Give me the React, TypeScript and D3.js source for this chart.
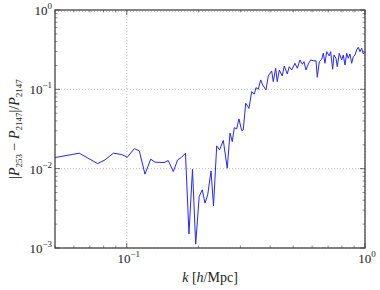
import React from 'react';
import * as d3 from 'd3';

// wavenumber k [h/Mpc]
const kValues = [
  0.05, 0.0632, 0.0755, 0.0811, 0.0879, 0.0953, 0.1006, 0.1076, 0.1129, 0.1193,
  0.1261, 0.1314, 0.1434, 0.1494, 0.1568, 0.1636, 0.1701, 0.1764, 0.1825, 0.1888,
  0.1947, 0.2014, 0.2075, 0.213, 0.2187, 0.2258, 0.2313, 0.2386, 0.2451, 0.2543,
  0.2642, 0.2713, 0.2773, 0.2827, 0.2893, 0.2958, 0.3037, 0.3084, 0.3157, 0.3259,
  0.3345, 0.343, 0.3487, 0.3565, 0.3649, 0.372, 0.384, 0.3927, 0.4058, 0.4121,
  0.4217, 0.4284, 0.4368, 0.4495, 0.4583, 0.4718, 0.481, 0.4924, 0.5083, 0.5198,
  0.5335, 0.5455, 0.5545, 0.5653, 0.578, 0.5916, 0.6108, 0.6228, 0.6306, 0.6429,
  0.658, 0.6683, 0.6792, 0.6906, 0.7082, 0.7177, 0.7317, 0.741, 0.7555, 0.7649,
  0.7798, 0.7981, 0.8105, 0.8241, 0.8377, 0.8507, 0.8647, 0.8792, 0.8929, 0.9077,
  0.9226, 0.9371, 0.9526, 0.9683, 0.9833, 1.0,
];

// |P_253 - P_2147| / P_2147
const ratioValues = [
  0.0138, 0.01567, 0.01159, 0.01291, 0.01567, 0.01506, 0.01396, 0.0179, 0.01676, 0.00853,
  0.01318, 0.01208, 0.01194, 0.01265, 0.00919, 0.01291, 0.01396, 0.01567, 0.00151, 0.0098,
  0.00112, 0.00445, 0.00541, 0.00368, 0.00468, 0.00938, 0.0034, 0.01937, 0.01725, 0.0227,
  0.01014, 0.028, 0.02194, 0.0329, 0.0317, 0.0424, 0.0302, 0.0308, 0.0668, 0.0575,
  0.0936, 0.0868, 0.105, 0.1003, 0.1313, 0.1136, 0.0983, 0.1475, 0.1705, 0.125,
  0.1843, 0.125, 0.1755, 0.1475, 0.197, 0.1563, 0.1931, 0.1755, 0.2131, 0.1843,
  0.2346, 0.2071, 0.2233, 0.1755, 0.2089, 0.2346, 0.2279, 0.2298, 0.142, 0.2233,
  0.2394, 0.2849, 0.2131, 0.2984, 0.2634, 0.2984, 0.1791, 0.2712, 0.2464, 0.1931,
  0.2849, 0.2346, 0.2712, 0.2029, 0.2849, 0.2464, 0.2792, 0.2131, 0.2581, 0.2712,
  0.3134, 0.339, 0.2984, 0.3294, 0.2792, 0.2984,
];

const xMajorTicks = [0.1, 1];
const xMajorLabels = ['\u22121', '0'];
const yMajorTicks = [0.001, 0.01, 0.1, 1];
const yMajorLabels = ['\u22123', '\u22122', '\u22121', '0'];

const W = 380;
const H = 290;
const margin = { top: 10, right: 15, bottom: 42, left: 55 };

const App = () => {
  const x = d3.scaleLog().domain([0.05, 1]).range([margin.left, W - margin.right]);
  const y = d3.scaleLog().domain([0.001, 1]).range([H - margin.bottom, margin.top]);

  const data = kValues.map((k, i) => ({ k, v: ratioValues[i] }));
  const line = d3.line<{ k: number; v: number }>()
    .x(d => x(d.k))
    .y(d => y(d.v));

  const x0 = margin.left;
  const x1 = W - margin.right;
  const y0 = H - margin.bottom;
  const y1 = margin.top;

  // minor ticks from the log scale, skipping the majors
  const xMinor = x.ticks().filter(t => !xMajorTicks.some(m => Math.abs(m - t) < 1e-9));
  const yMinor = y.ticks().filter(t => !yMajorTicks.some(m => Math.abs(m - t) < 1e-9));

  const font = '"Liberation Serif", "DejaVu Serif", serif';
  const axisColor = '#444';

  return (
    <div style={{ position: 'absolute', left: 0, top: 0 }}>
      <svg width={W} height={H} style={{ display: 'block', background: '#fff' }}>
        {/* grid */}
        {xMajorTicks.map(t => (
          <line key={'gx' + t} x1={x(t)} x2={x(t)} y1={y0} y2={y1}
            stroke="#aaa" strokeWidth={0.8} strokeDasharray="1,2" />
        ))}
        {yMajorTicks.map(t => (
          <line key={'gy' + t} x1={x0} x2={x1} y1={y(t) + (t === 1 ? 1.5 : 0)} y2={y(t) + (t === 1 ? 1.5 : 0)}
            stroke="#aaa" strokeWidth={0.8} strokeDasharray="1,2" />
        ))}

        {/* data */}
        <path d={line(data) ?? ''} fill="none" stroke="#2626ff" strokeWidth={1} strokeLinejoin="round" />

        {/* ticks, inward on all four sides */}
        {xMajorTicks.map(t => (
          <g key={'xt' + t} stroke={axisColor} strokeWidth={0.8}>
            <line x1={x(t)} x2={x(t)} y1={y0} y2={y0 - 5} />
            <line x1={x(t)} x2={x(t)} y1={y1} y2={y1 + 5} />
          </g>
        ))}
        {xMinor.map(t => (
          <g key={'xm' + t} stroke={axisColor} strokeWidth={0.6}>
            <line x1={x(t)} x2={x(t)} y1={y0} y2={y0 - 2.5} />
            <line x1={x(t)} x2={x(t)} y1={y1} y2={y1 + 2.5} />
          </g>
        ))}
        {yMajorTicks.map(t => (
          <g key={'yt' + t} stroke={axisColor} strokeWidth={0.8}>
            <line x1={x0} x2={x0 + 5} y1={y(t)} y2={y(t)} />
            <line x1={x1} x2={x1 - 5} y1={y(t)} y2={y(t)} />
          </g>
        ))}
        {yMinor.map(t => (
          <g key={'ym' + t} stroke={axisColor} strokeWidth={0.6}>
            <line x1={x0} x2={x0 + 2.5} y1={y(t)} y2={y(t)} />
            <line x1={x1} x2={x1 - 2.5} y1={y(t)} y2={y(t)} />
          </g>
        ))}

        {/* frame */}
        <rect x={x0} y={y1} width={x1 - x0} height={y0 - y1} fill="none" stroke={axisColor} strokeWidth={1.3} />

        {/* tick labels */}
        {xMajorTicks.map((t, i) => (
          <text key={'xl' + t} x={x(t) + 2} y={y0 + 15} textAnchor="middle" fontFamily={font} fontSize={13} fill="#222">
            10<tspan dy={-6} fontSize={9}>{xMajorLabels[i]}</tspan>
          </text>
        ))}
        {yMajorTicks.map((t, i) => (
          <text key={'yl' + t} x={x0 - 3} y={y(t) + 5} textAnchor="end" fontFamily={font} fontSize={13} fill="#222">
            10<tspan dy={-6} fontSize={9}>{yMajorLabels[i]}</tspan>
          </text>
        ))}

        {/* axis labels */}
        <text x={(x0 + x1) / 2} y={282} textAnchor="middle" fontFamily={font} fontSize={14} fill="#222">
          <tspan fontStyle="italic">k</tspan> [<tspan fontStyle="italic">h</tspan>/Mpc]
        </text>
        <text transform={`translate(19,${(y0 + y1) / 2}) rotate(-90)`} textAnchor="middle" fontFamily={font} fontSize={14} fill="#222">
          |<tspan fontStyle="italic">P</tspan><tspan dy={3} fontSize={9}>253</tspan>
          <tspan dy={-3}> {'\u2212'} </tspan><tspan fontStyle="italic">P</tspan><tspan dy={3} fontSize={9}>2147</tspan>
          <tspan dy={-3}>|/</tspan><tspan fontStyle="italic">P</tspan><tspan dy={3} fontSize={9}>2147</tspan>
        </text>
      </svg>
    </div>
  );
};

export default App;
